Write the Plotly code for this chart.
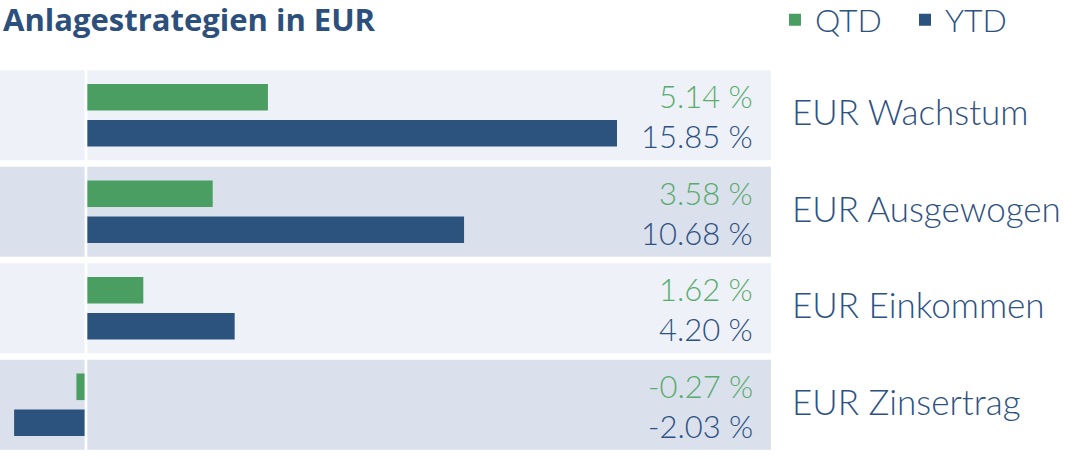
import plotly.graph_objects as go

categories = ["EUR Wachstum", "EUR Ausgewogen", "EUR Einkommen", "EUR Zinsertrag"]
qtd = [5.14, 3.58, 1.62, -0.27]
ytd = [15.85, 10.68, 4.20, -2.03]
series_names = ["QTD", "YTD"]

GREEN = "#4b9e62"
BLUE = "#2c527e"
GREEN_TXT = "#5aab6f"
BLUE_TXT = "#2d5182"
BAND_LIGHT = "#eef2f8"
BAND_DARK = "#dae0ec"
FONT = "Lato"
FONT_TITLE = "Open Sans"

W, H = 1075, 459
L, R_PX = 1, 617      # plot area pixel extent (x)
T, B_PX = 67, 453     # plot area pixel extent (y)
PW = R_PX - L
PH = B_PX - T


def px_x(p):
    return (p - L) / PW


def px_y(p):
    return (B_PX - p) / PH


fig = go.Figure()
fig.add_trace(go.Bar(name=series_names[0], y=categories, x=qtd, orientation="h",
                     marker=dict(color=GREEN, line=dict(width=0)), hoverinfo="skip"))
fig.add_trace(go.Bar(name=series_names[1], y=categories, x=ytd, orientation="h",
                     marker=dict(color=BLUE, line=dict(width=0)), hoverinfo="skip"))

shapes = []
half = 0.4655
for i, c in enumerate(categories):
    shapes.append(dict(type="rect", xref="paper", yref="y",
                       x0=px_x(0), x1=px_x(771), y0=i - half, y1=i + half,
                       fillcolor=BAND_LIGHT if i % 2 == 0 else BAND_DARK,
                       line=dict(width=0), layer="below"))
shapes.append(dict(type="line", xref="x", yref="paper", x0=0, x1=0, y0=-0.02, y1=1.02,
                   line=dict(color="white", width=2.7), layer="above"))

annotations = []
for i, c in enumerate(categories):
    annotations.append(dict(xref="paper", yref="y", x=px_x(755), y=i, yshift=19,
                            text=f"{qtd[i]:.2f} %", showarrow=False, xanchor="right",
                            yanchor="middle",
                            font=dict(family=FONT, size=31, color=GREEN_TXT, weight=300)))
    annotations.append(dict(xref="paper", yref="y", x=px_x(755), y=i, yshift=-21,
                            text=f"{ytd[i]:.2f} %", showarrow=False, xanchor="right",
                            yanchor="middle",
                            font=dict(family=FONT, size=31, color=BLUE_TXT, weight=300)))
    annotations.append(dict(xref="paper", yref="y", x=px_x(790), y=i, yshift=4,
                            text=c, showarrow=False, xanchor="left", yanchor="middle",
                            font=dict(family=FONT, size=35, color=BLUE_TXT, weight=300)))

fig.update_layout(
    width=W, height=H,
    margin=dict(l=L, r=W - R_PX, t=T, b=H - B_PX, pad=0, autoexpand=False),
    paper_bgcolor="white", plot_bgcolor="rgba(0,0,0,0)",
    barmode="group", bargap=0.255, bargroupgap=0.26,
    title=dict(text="<b>Anlagestrategien in EUR</b>", x=3 / W, xanchor="left",
               y=1 - 20 / H, yanchor="middle",
               font=dict(family=FONT_TITLE, size=31, color="#2d4f7c")),
    xaxis=dict(range=[-2.4, 15], showgrid=False, zeroline=False, showticklabels=False,
               ticks="", fixedrange=True),
    yaxis=dict(type="category", categoryorder="array", categoryarray=categories,
               range=[3.5, -0.5], showgrid=False, zeroline=False, showticklabels=False,
               ticks="", fixedrange=True),
    legend=dict(orientation="h", x=px_x(775), xanchor="left", y=px_y(20), yanchor="middle",
                font=dict(family=FONT, size=32, color=BLUE_TXT, weight=300),
                bgcolor="rgba(0,0,0,0)", traceorder="normal", itemwidth=30,
                entrywidth=85, entrywidthmode="pixels"),
    shapes=shapes, annotations=annotations, showlegend=True,
)

fig.write_html("out.html", config={"displayModeBar": False},
               post_script="document.body.style.margin='0';")
